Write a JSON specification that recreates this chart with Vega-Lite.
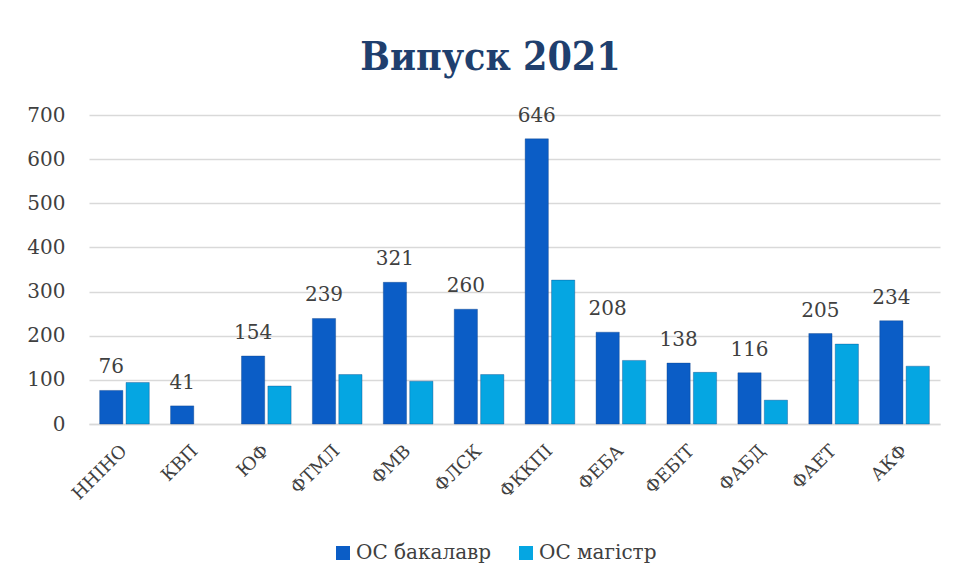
{
  "$schema": "https://vega.github.io/schema/vega-lite/v6.json",
  "width": 851,
  "height": 309,
  "autosize": "none",
  "padding": {"left": 89, "top": 115, "right": 17, "bottom": 155},
  "background": "white",
  "title": {
    "text": "Випуск 2021",
    "font": "DejaVu Serif Condensed",
    "fontSize": 39,
    "fontWeight": "bold",
    "color": "#1F3F6E",
    "anchor": "middle",
    "dx": -24,
    "offset": 27
  },
  "data": {
    "values": [
      {"f": "ННІНО", "s": "ОС бакалавр", "v": 76},
      {"f": "ННІНО", "s": "ОС магістр", "v": 94},
      {"f": "КВП", "s": "ОС бакалавр", "v": 41},
      {"f": "ЮФ", "s": "ОС бакалавр", "v": 154},
      {"f": "ЮФ", "s": "ОС магістр", "v": 86},
      {"f": "ФТМЛ", "s": "ОС бакалавр", "v": 239},
      {"f": "ФТМЛ", "s": "ОС магістр", "v": 112},
      {"f": "ФМВ", "s": "ОС бакалавр", "v": 321},
      {"f": "ФМВ", "s": "ОС магістр", "v": 97},
      {"f": "ФЛСК", "s": "ОС бакалавр", "v": 260},
      {"f": "ФЛСК", "s": "ОС магістр", "v": 112},
      {"f": "ФККПІ", "s": "ОС бакалавр", "v": 646},
      {"f": "ФККПІ", "s": "ОС магістр", "v": 326},
      {"f": "ФЕБА", "s": "ОС бакалавр", "v": 208},
      {"f": "ФЕБА", "s": "ОС магістр", "v": 144},
      {"f": "ФЕБІТ", "s": "ОС бакалавр", "v": 138},
      {"f": "ФЕБІТ", "s": "ОС магістр", "v": 117},
      {"f": "ФАБД", "s": "ОС бакалавр", "v": 116},
      {"f": "ФАБД", "s": "ОС магістр", "v": 54},
      {"f": "ФАЕТ", "s": "ОС бакалавр", "v": 205},
      {"f": "ФАЕТ", "s": "ОС магістр", "v": 181},
      {"f": "АКФ", "s": "ОС бакалавр", "v": 234},
      {"f": "АКФ", "s": "ОС магістр", "v": 131}
    ]
  },
  "encoding": {
    "x": {
      "field": "f",
      "type": "nominal",
      "sort": null,
      "title": null,
      "scale": {"paddingInner": 0.3, "paddingOuter": 0.15},
      "axis": {
        "labelAngle": -45,
        "labelAlign": "right",
        "labelBaseline": "middle",
        "labelFont": "DejaVu Serif",
        "labelFontSize": 18,
        "labelColor": "#404040",
        "labelPadding": 24,
        "domain": true,
        "domainColor": "#d9d9d9",
        "domainWidth": 1.5,
        "ticks": false
      }
    },
    "xOffset": {
      "field": "s",
      "type": "nominal",
      "scale": {"domain": ["ОС бакалавр", "ОС магістр"], "paddingInner": 0.12}
    }
  },
  "layer": [
    {
      "mark": {"type": "bar", "stroke": "#0A3E80", "strokeWidth": 0.6, "strokeOpacity": 0.6},
      "encoding": {
        "y": {
          "field": "v",
          "type": "quantitative",
          "title": null,
          "scale": {"domain": [0, 700]},
          "axis": {
            "values": [0, 100, 200, 300, 400, 500, 600, 700],
            "labelFont": "DejaVu Serif",
            "labelFontSize": 20,
            "labelColor": "#404040",
            "labelPadding": 24,
            "domain": false,
            "ticks": false,
            "gridColor": "#d9d9d9",
            "gridWidth": 1.5
          }
        },
        "color": {
          "field": "s",
          "type": "nominal",
          "title": null,
          "scale": {"domain": ["ОС бакалавр", "ОС магістр"], "range": ["#0B5DC6", "#05A6E2"]},
          "legend": {
            "orient": "none",
            "direction": "horizontal",
            "legendX": 244,
            "legendY": 428,
            "symbolType": "square",
            "symbolSize": 196,
            "symbolStrokeWidth": 0,
            "labelFont": "DejaVu Serif",
            "labelFontSize": 20,
            "labelColor": "#404040",
            "columnPadding": 24,
            "labelOffset": 3
          }
        }
      }
    },
    {
      "transform": [{"filter": "datum.s === 'ОС бакалавр'"}],
      "mark": {
        "type": "text",
        "baseline": "bottom",
        "dy": -13,
        "font": "DejaVu Serif",
        "fontSize": 20,
        "color": "#404040"
      },
      "encoding": {
        "y": {"field": "v", "type": "quantitative"},
        "text": {"field": "v", "type": "quantitative"}
      }
    }
  ],
  "config": {
    "view": {"stroke": null}
  }
}
